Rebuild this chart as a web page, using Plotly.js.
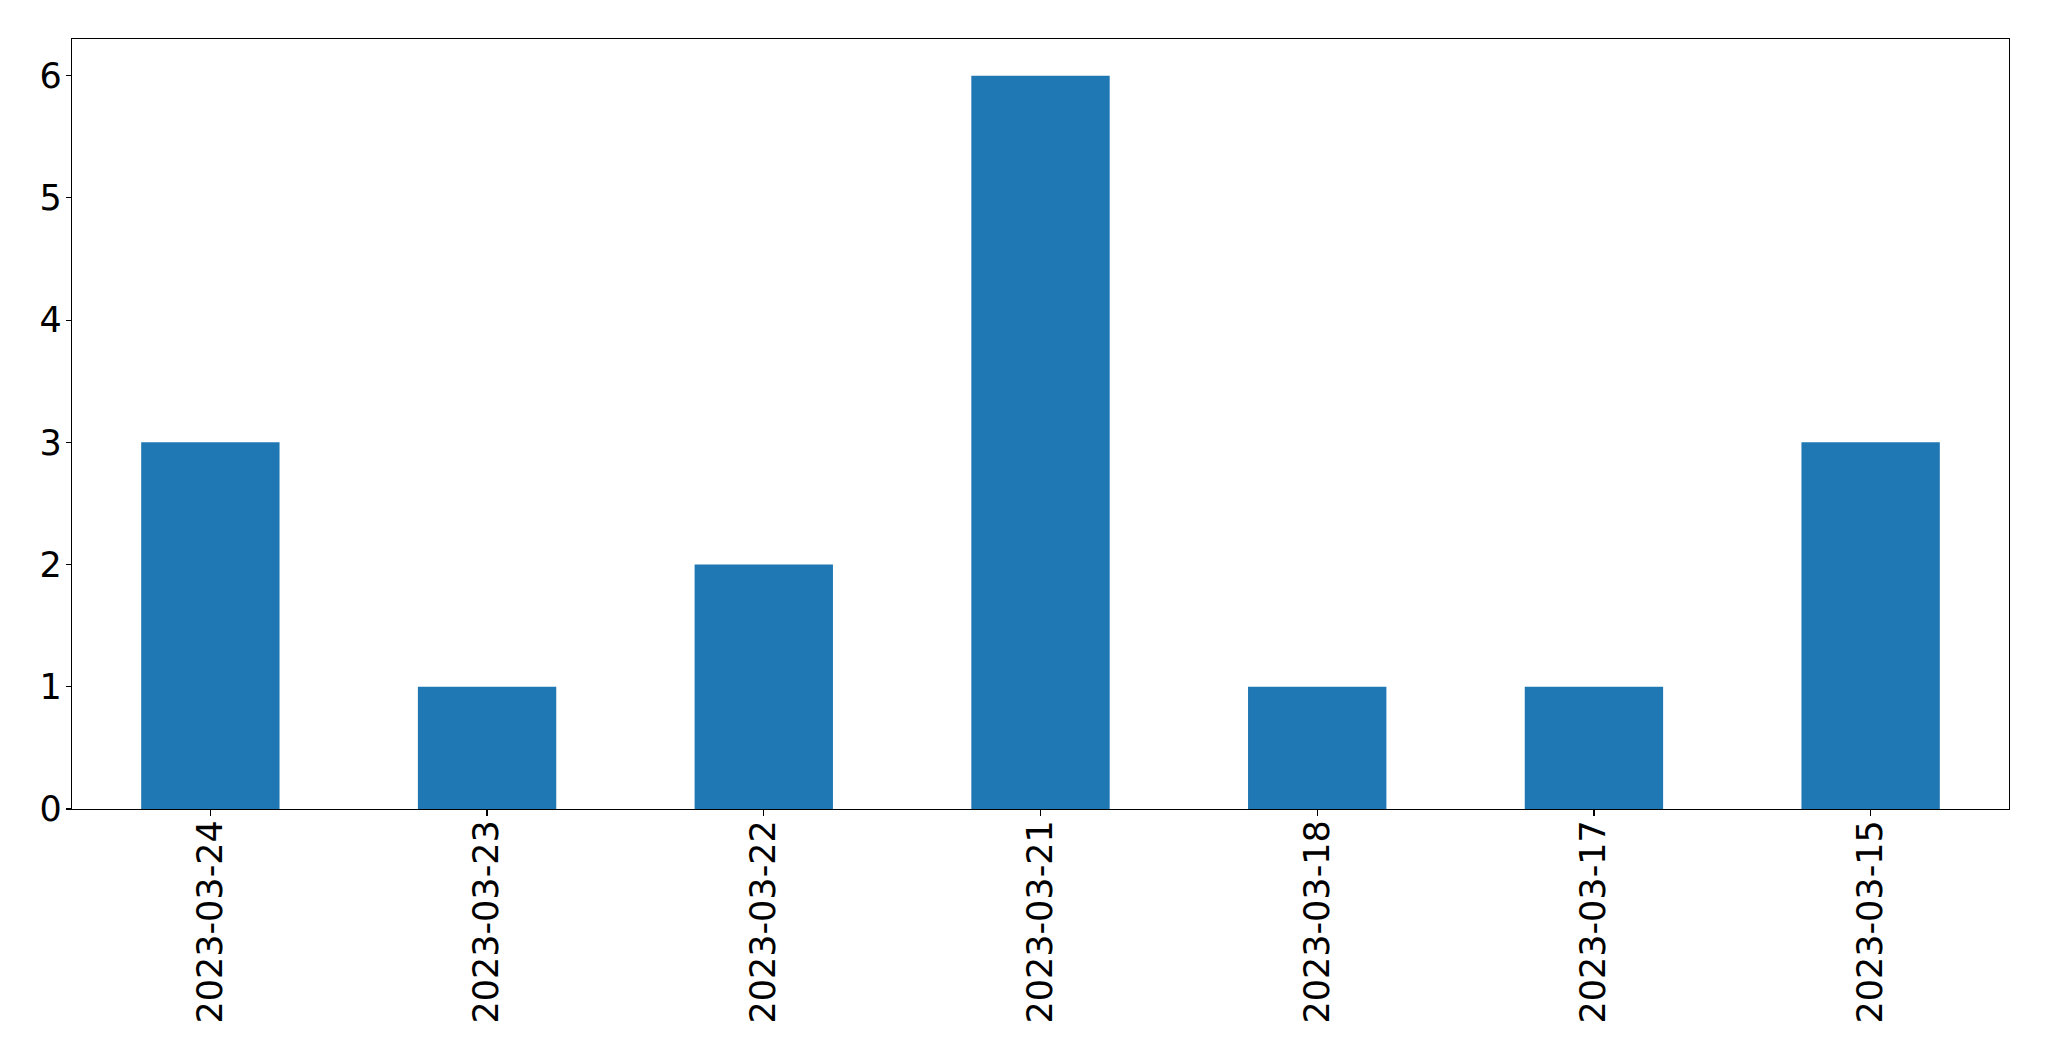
<!DOCTYPE html>
<html>
<head>
<meta charset="utf-8">
<script src="https://cdn.plot.ly/plotly-3.0.1.min.js"></script>
<style>html,body{margin:0;padding:0;background:#fff;}#chart{width:2049px;height:1061px;}</style>
</head>
<body>
<div id="chart"></div>
<script>
const categories = ["2023-03-24","2023-03-23","2023-03-22","2023-03-21","2023-03-18","2023-03-17","2023-03-15"];
const counts = [3, 1, 2, 6, 1, 1, 3];
const yTicks = [0, 1, 2, 3, 4, 5, 6];

const trace = {
  type: 'bar',
  x: categories,
  y: counts,
  width: 0.5,
  marker: {color: '#1f77b4', line: {width: 0}},
  hoverinfo: 'x+y'
};

const layout = {
  width: 2049,
  height: 1061,
  margin: {l: 72, r: 40, t: 39, b: 252, pad: 0},
  paper_bgcolor: '#ffffff',
  plot_bgcolor: '#ffffff',
  font: {family: 'DejaVu Sans, sans-serif', size: 35, color: '#000000'},
  showlegend: false,
  bargap: 0.5,
  xaxis: {
    type: 'category',
    range: [-0.5, 6.5],
    tickangle: -90,
    ticks: 'outside',
    ticklen: 6,
    tickwidth: 1.2,
    tickcolor: '#000',
    showline: true,
    linecolor: '#000',
    linewidth: 1.2,
    mirror: true,
    showgrid: false,
    zeroline: false,
    automargin: false,
    ticklabelstandoff: -10,
    tickfont: {family: 'DejaVu Sans, sans-serif', size: 35, color: '#000'}
  },
  yaxis: {
    range: [0, 6.3],
    tickvals: yTicks,
    ticktext: yTicks.map(String),
    ticks: 'outside',
    ticklen: 5,
    tickwidth: 1.2,
    tickcolor: '#000',
    showline: true,
    linecolor: '#000',
    linewidth: 1.2,
    mirror: true,
    showgrid: false,
    zeroline: false,
    automargin: false,
    ticklabelstandoff: -3,
    tickfont: {family: 'DejaVu Sans, sans-serif', size: 35, color: '#000'}
  }
};

Plotly.newPlot('chart', [trace], layout, {displayModeBar: false, staticPlot: true});
</script>
</body>
</html>
